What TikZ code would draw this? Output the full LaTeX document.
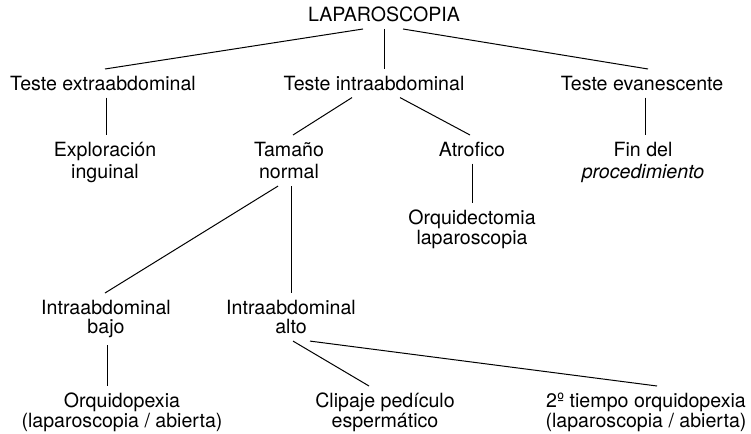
\documentclass[tikz,border=0pt]{standalone}
\usepackage{fontspec}
\setmainfont{TeX Gyre Heros}
\usepackage{tikz}
\tikzstyle{txt}=[align=center,inner sep=0pt,outer sep=7pt,anchor=north,font=\fontsize{19.6}{19.5}\selectfont]
\tikzstyle{conn}=[line width=1pt,draw=black]

\begin{document}
\begin{tikzpicture}[x=1pt,y=-1pt]
    \useasboundingbox (0,0) rectangle (751,433);

    \node (lap) [txt] at (384,0) {LAPAROSCOPIA};

    \node (extra) [txt] at (103,69) {Teste extraabdominal};
    \node (intra) [txt] at (374,69) {Teste intraabdominal};
    \node (evan) [txt] at (642,69) {Teste evanescente};

    \node (explo) [txt] at (105,135) {Exploración\\[3pt]inguinal};
    \node (tamano) [txt] at (289,135) {Tamaño\\[3pt]normal};
    \node (atrof) [txt] at (472,135) {Atrofico};
    \node (fin) [txt] at (643,135) {Fin del\\[3pt]\itshape procedimiento};

    \node (orqtom) [txt] at (472,203) {Orquidectomia\\laparoscopia};

    \node (bajo) [txt] at (106,293) {Intraabdominal\\bajo};
    \node (alto) [txt] at (291,293) {Intraabdominal\\alto};

    \node (orqpex) [txt] at (122,386) {Orquidopexia\\(laparoscopia / abierta)};
    \node (clip) [txt] at (385,386) {Clipaje pedículo\\espermático};
    \node (tiempo) [txt] at (646,386) {2º tiempo orquidopexia\\(laparoscopia / abierta)};

    \draw[conn] ([xshift=-21pt]lap.south) -- ([xshift=2pt]extra.north);
    \draw[conn] (lap.south) -- (lap.south |- intra.north);
    \draw[conn] ([xshift=19pt]lap.south) -- ([xshift=6pt]evan.north);

    \draw[conn] ([xshift=3pt]extra.south) -- ([xshift=1pt]explo.north);
    \draw[conn] ([xshift=-22pt]intra.south) -- ([xshift=4pt]tamano.north);
    \draw[conn] ([xshift=26pt]intra.south) -- ([xshift=-2pt]atrof.north);
    \draw[conn] ([xshift=3pt]evan.south) -- ([xshift=2pt]fin.north);

    \draw[conn] (atrof.south) -- (orqtom.north);
    \draw[conn] ([xshift=-11pt]tamano.south) -- ([xshift=-1pt]bajo.north);
    \draw[conn] ([xshift=2pt]tamano.south) -- (alto.north);

    \draw[conn] ([xshift=1pt]bajo.south) -- ([xshift=-15pt]orqpex.north);
    \draw[conn] ([xshift=2pt]alto.south) -- ([xshift=-16pt]clip.north);
    \draw[conn] ([xshift=19pt]alto.south) -- ([xshift=11pt]tiempo.north);
    %\draw[conn] (alto.south) -- (tiempo.north);
\end{tikzpicture}
\end{document}
